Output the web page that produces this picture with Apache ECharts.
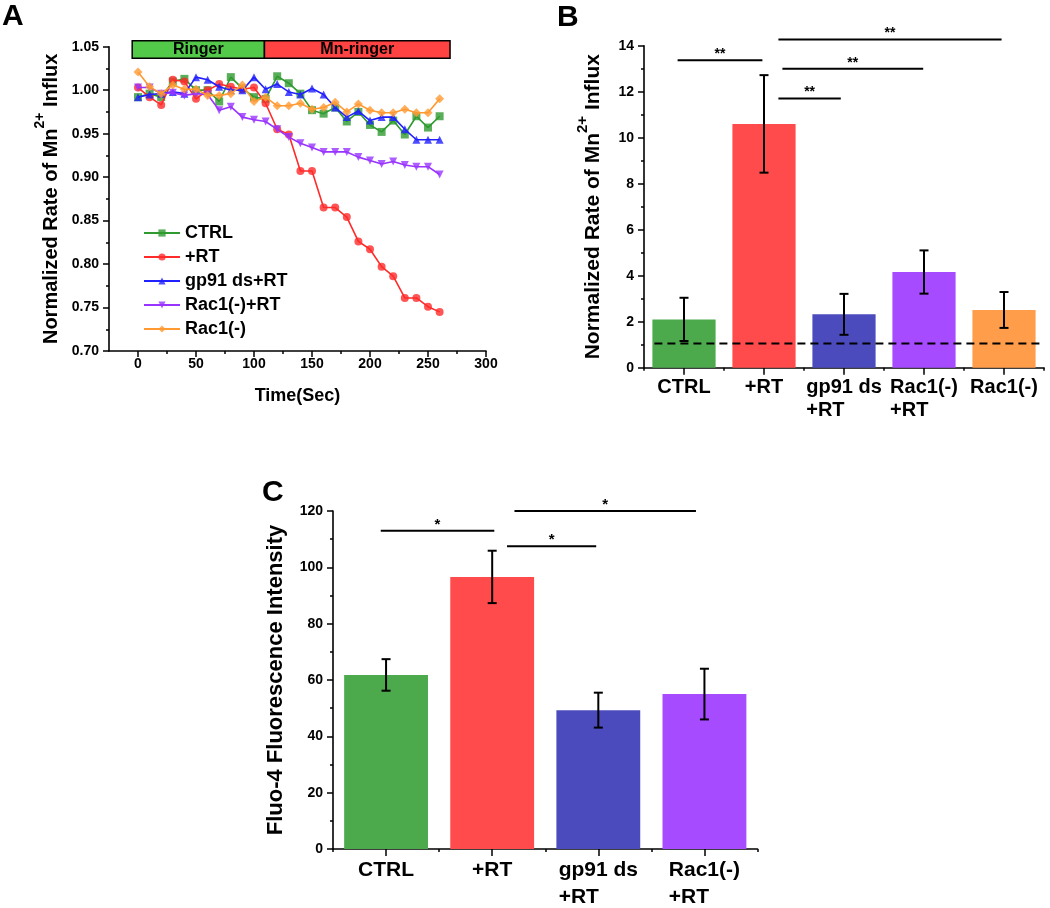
<!DOCTYPE html>
<html><head><meta charset="utf-8">
<script src="https://cdn.jsdelivr.net/npm/echarts@6/dist/echarts.min.js"></script>
<style>html,body{margin:0;padding:0;background:#fff}#c{width:1050px;height:908px}</style>
</head><body><div id="c"></div>
<script>
// ---------- Panel A data ----------
const timeSec = [0,10,20,30,40,50,60,70,80,90,100,110,120,130,140,150,160,170,180,190,200,210,220,230,240,250,260];
const ctrlA   = [0.992,0.996,0.992,1.010,1.013,1.000,1.000,0.987,1.015,1.002,0.992,0.990,1.016,1.008,0.996,0.977,0.973,0.980,0.964,0.975,0.960,0.952,0.965,0.949,0.970,0.957,0.970];
const rtA     = [1.003,0.992,0.983,1.012,1.010,0.990,1.000,1.007,1.004,1.001,1.003,0.985,0.955,0.949,0.907,0.907,0.865,0.865,0.854,0.826,0.817,0.797,0.786,0.761,0.761,0.751,0.745];
const gp91A   = [0.992,0.995,0.996,0.998,0.996,1.015,1.012,1.004,1.000,1.000,1.015,1.001,1.007,0.998,0.995,1.002,0.995,0.980,0.969,0.976,0.965,0.969,0.969,0.955,0.943,0.943,0.943];
const rac1RtA = [1.003,1.003,0.996,0.997,0.994,0.996,0.995,0.977,0.981,0.969,0.966,0.964,0.955,0.946,0.939,0.934,0.929,0.929,0.929,0.923,0.919,0.915,0.918,0.914,0.912,0.912,0.903];
const rac1A   = [1.021,1.004,0.996,1.006,1.001,1.001,0.994,0.994,0.996,1.006,0.987,0.992,0.982,0.982,0.985,0.978,0.980,0.986,0.975,0.984,0.977,0.974,0.974,0.978,0.974,0.974,0.990];
const seriesNamesA = ['CTRL','+RT','gp91 ds+RT','Rac1(-)+RT','Rac1(-)'];
const phaseLabels = ['Ringer','Mn-ringer'];
const phaseStart  = [-5, 109];
const phaseEnd    = [109, 269];
const xTicksA = [0,50,100,150,200,250,300];
const xMinorA = [25,75,125,175,225,275];

// ---------- Panel B data ----------
const catB  = ['CTRL','+RT','gp91 ds\n+RT','Rac1(-)\n+RT','Rac1(-)'];
const meanB = [2.10,10.60,2.32,4.16,2.51];
const errB  = [0.94,2.12,0.89,0.94,0.78];
const baselineB = 1.05;
const sigFromB = [-0.08,1.18,1.23,1.18];
const sigToB   = [0.98,3.97,2.99,1.96];
const sigYB    = [13.37,14.27,13.0,11.7];
const sigTextB = ['**','**','**','**'];

// ---------- Panel C data ----------
const catC  = ['CTRL','+RT','gp91 ds\n+RT','Rac1(-)\n+RT'];
const meanC = [61.8,96.6,49.3,55.0];
const errC  = [5.6,9.3,6.2,9.0];
const sigFromC = [-0.05,1.21,1.14];
const sigToC   = [1.02,2.92,1.98];
const sigYC    = [113.0,120.0,107.5];
const sigTextC = ['*','*','*'];

// ---------- styles ----------
const FF = '"Liberation Sans", Arial, sans-serif';
const lineColors = ['#2f9a2f','#ff2a2a','#2121ff','#9933ff','#ff9a33'];
const symbols = ['rect','circle','triangle','triangle','diamond'];
const symbolRot = [0,0,0,180,0];
const barColors = ['#4caa4c','#ff4b4b','#4b4bbe','#a64bff','#ff9d4b'];
const phaseColors = ['#52c948','#ff4242'];

const chart = echarts.init(document.getElementById('c'), null, {renderer:'canvas'});

function axisLineStyle(){ return {show:true, onZero:false, lineStyle:{color:'#000', width:1.6}}; }

function catLabel(size, lh){
  return {
    interval:0,
    color:'#000', fontFamily:FF, fontWeight:'bold', fontSize:size, margin:8,
    formatter: v => v.split('\n').map(s => '{l|' + s + '}').join('\n'),
    rich:{ l:{align:'left', fontFamily:FF, fontWeight:'bold', fontSize:size, lineHeight:lh, color:'#000'} }
  };
}
function yName(size, supSize, lh){
  return {
    rich:{
      n:{fontFamily:FF, fontWeight:'bold', fontSize:size, color:'#000', verticalAlign:'bottom', lineHeight:lh},
      s:{fontFamily:FF, fontWeight:'bold', fontSize:supSize, color:'#000', verticalAlign:'top', lineHeight:lh}
    }
  };
}

function errRender(means, errs){
  return function(params, api){
    const i = params.dataIndex;
    const top = api.coord([i, means[i] + errs[i]]);
    const bot = api.coord([i, means[i] - errs[i]]);
    const hw = 4.5;
    const st = {stroke:'#000', lineWidth:2};
    return {type:'group', children:[
      {type:'line', shape:{x1:top[0], y1:top[1], x2:bot[0], y2:bot[1]}, style:st},
      {type:'line', shape:{x1:top[0]-hw, y1:top[1], x2:top[0]+hw, y2:top[1]}, style:st},
      {type:'line', shape:{x1:bot[0]-hw, y1:bot[1], x2:bot[0]+hw, y2:bot[1]}, style:st}
    ]};
  };
}
function sigRender(from, to, ys, texts, fontSize){
  return function(params, api){
    const i = params.dataIndex;
    const a = api.coord([from[i], ys[i]]);
    const b = api.coord([to[i], ys[i]]);
    return {type:'group', children:[
      {type:'line', shape:{x1:a[0], y1:a[1], x2:b[0], y2:b[1]}, style:{stroke:'#000', lineWidth:2}},
      {type:'text', style:{text:texts[i], x:(a[0]+b[0])/2, y:a[1]-6, align:'center', verticalAlign:'middle',
        font:'bold ' + fontSize + 'px ' + FF, fill:'#000'}}
    ]};
  };
}

const lineSeries = [ctrlA, rtA, gp91A, rac1RtA, rac1A].map((vals, k) => ({
  name: seriesNamesA[k], type:'line', xAxisIndex:0, yAxisIndex:0,
  data: timeSec.map((t, i) => [t, vals[i]]),
  symbol: symbols[k], symbolRotate: symbolRot[k], symbolSize: k === 4 ? 9 : 8,
  lineStyle:{color:lineColors[k], width:1.6},
  itemStyle:{color:lineColors[k], opacity:0.8},
  z: 3 + k
}));

const option = {
  animation:false,
  backgroundColor:'#fff',
  textStyle:{fontFamily:FF},
  graphic:[
    {type:'text', left:2, top:2, style:{text:'A', font:'bold 30px ' + FF, fill:'#000'}},
    {type:'text', left:557, top:3, style:{text:'B', font:'bold 30px ' + FF, fill:'#000'}},
    {type:'text', left:262, top:478, style:{text:'C', font:'bold 30px ' + FF, fill:'#000'}}
  ],
  legend:{
    data: seriesNamesA, orient:'vertical', left:138, top:219,
    itemWidth:36, itemHeight:9, itemGap:6,
    textStyle:{fontFamily:FF, fontWeight:'bold', fontSize:18, color:'#000'}
  },
  grid:[
    {left:109, top:46.7, width:377, height:304.3},
    {left:644, top:45.7, width:400, height:322},
    {left:333, top:511, width:424.5, height:342.3}
  ],
  xAxis:[
    { // 0: A main
      type:'value', gridIndex:0, min:-25, max:300, position:'bottom',
      axisLine:axisLineStyle(),
      axisTick:{show:true, length:6, customValues:xTicksA, lineStyle:{color:'#000', width:1.5}},
      axisLabel:{customValues:xTicksA, color:'#000', fontWeight:'bold', fontSize:14, fontFamily:FF, margin:6},
      splitLine:{show:false},
      name:'Time(Sec)', nameLocation:'middle', nameGap:36,
      nameTextStyle:{fontFamily:FF, fontWeight:'bold', fontSize:18, color:'#000'}
    },
    { // 1: A minor ticks
      type:'value', gridIndex:0, min:-25, max:300, position:'bottom',
      axisLine:{show:false, onZero:false},
      axisTick:{show:true, length:3, customValues:xMinorA, lineStyle:{color:'#000', width:1.5}},
      axisLabel:{show:false}, splitLine:{show:false}
    },
    { // 2: B main category
      type:'category', gridIndex:1, data:catB, position:'bottom',
      axisLine:axisLineStyle(),
      axisTick:{show:true, alignWithLabel:true, length:7, lineStyle:{color:'#000', width:1.5}},
      axisLabel:catLabel(20, 23)
    },
    { // 3: B boundary ticks
      type:'category', gridIndex:1, data:catB, position:'bottom',
      axisLine:{show:false, onZero:false},
      axisTick:{show:true, length:3, lineStyle:{color:'#000', width:1.5}},
      axisLabel:{show:false}
    },
    { // 4: B overlay value
      type:'value', gridIndex:1, min:-0.5, max:4.5, show:false, position:'bottom'
    },
    { // 5: C main category
      type:'category', gridIndex:2, data:catC, position:'bottom',
      axisLine:axisLineStyle(),
      axisTick:{show:true, alignWithLabel:true, length:7, lineStyle:{color:'#000', width:1.5}},
      axisLabel:catLabel(21, 27)
    },
    { // 6: C boundary ticks
      type:'category', gridIndex:2, data:catC, position:'bottom',
      axisLine:{show:false, onZero:false},
      axisTick:{show:true, length:3, lineStyle:{color:'#000', width:1.5}},
      axisLabel:{show:false}
    },
    { // 7: C overlay value
      type:'value', gridIndex:2, min:-0.5, max:3.5, show:false, position:'bottom'
    }
  ],
  yAxis:[
    {
      type:'value', gridIndex:0, min:0.7, max:1.05, interval:0.05, position:'left',
      axisLine:axisLineStyle(),
      axisTick:{show:true, length:6, lineStyle:{color:'#000', width:1.5}},
      minorTick:{show:true, splitNumber:2, length:3, lineStyle:{color:'#000', width:1.5}},
      axisLabel:{color:'#000', fontWeight:'bold', fontSize:14, fontFamily:FF, margin:10, formatter:v => v.toFixed(2)},
      splitLine:{show:false},
      name:'{n|Normalized Rate of Mn}{s|2+}{n| Influx}', nameLocation:'middle', nameGap:48,
      nameTextStyle:yName(20, 14, 28)
    },
    {
      type:'value', gridIndex:1, min:0, max:14, interval:2, position:'left',
      axisLine:axisLineStyle(),
      axisTick:{show:true, length:6, lineStyle:{color:'#000', width:1.5}},
      minorTick:{show:true, splitNumber:2, length:3, lineStyle:{color:'#000', width:1.5}},
      axisLabel:{color:'#000', fontWeight:'bold', fontSize:14, fontFamily:FF, margin:10},
      splitLine:{show:false},
      name:'{n|Normalized Rate of Mn}{s|2+}{n| Influx}', nameLocation:'middle', nameGap:40,
      nameTextStyle:yName(21, 15, 29)
    },
    {
      type:'value', gridIndex:2, min:0, max:120, interval:20, position:'left',
      axisLine:axisLineStyle(),
      axisTick:{show:true, length:6, lineStyle:{color:'#000', width:1.5}},
      minorTick:{show:true, splitNumber:2, length:3, lineStyle:{color:'#000', width:1.5}},
      axisLabel:{color:'#000', fontWeight:'bold', fontSize:14, fontFamily:FF, margin:10},
      splitLine:{show:false},
      name:'Fluo-4 Fluorescence Intensity', nameLocation:'middle', nameGap:46,
      nameTextStyle:{fontFamily:FF, fontWeight:'bold', fontSize:22, color:'#000'}
    }
  ],
  series:[
    ...lineSeries,
    {
      name:'phase', type:'custom', xAxisIndex:0, yAxisIndex:0, clip:false, z:10,
      data: phaseLabels.map((l, i) => [phaseStart[i], phaseEnd[i]]),
      renderItem(params, api){
        const i = params.dataIndex;
        const yTop = api.coord([0, 1.05])[1] - 6;
        const h = 17.6;
        const x1 = api.coord([phaseStart[i], 1.05])[0];
        const x2 = api.coord([phaseEnd[i], 1.05])[0];
        return {type:'group', children:[
          {type:'rect', shape:{x:x1, y:yTop, width:x2-x1, height:h}, style:{fill:phaseColors[i], stroke:'#000', lineWidth:1.5}},
          {type:'text', style:{text:phaseLabels[i], x:(x1+x2)/2, y:yTop+h/2+0.5, align:'center', verticalAlign:'middle',
            font:'bold 16px ' + FF, fill:'#000'}}
        ]};
      }
    },
    {
      name:'B bars', type:'bar', xAxisIndex:2, yAxisIndex:1, barWidth:'79%',
      data: meanB.map((v, i) => ({value:v, itemStyle:{color:barColors[i]}}))
    },
    {
      name:'B err', type:'custom', xAxisIndex:2, yAxisIndex:1, z:5,
      data: meanB.map((v, i) => [i, v]), renderItem: errRender(meanB, errB)
    },
    {
      name:'B baseline', type:'custom', xAxisIndex:4, yAxisIndex:1, z:6,
      data:[[baselineB]],
      renderItem(params, api){
        const a = api.coord([-0.37, baselineB]);
        const b = api.coord([4.45, baselineB]);
        return {type:'line', shape:{x1:a[0], y1:a[1], x2:b[0], y2:b[1]}, style:{stroke:'#000', lineWidth:2, lineDash:[8,5]}};
      }
    },
    {
      name:'B sig', type:'custom', xAxisIndex:4, yAxisIndex:1, clip:false, z:6,
      data: sigYB.map((y, i) => [sigFromB[i], y]), renderItem: sigRender(sigFromB, sigToB, sigYB, sigTextB, 14)
    },
    {
      name:'C bars', type:'bar', xAxisIndex:5, yAxisIndex:2, barWidth:'79%',
      data: meanC.map((v, i) => ({value:v, itemStyle:{color:barColors[i]}}))
    },
    {
      name:'C err', type:'custom', xAxisIndex:5, yAxisIndex:2, z:5,
      data: meanC.map((v, i) => [i, v]), renderItem: errRender(meanC, errC)
    },
    {
      name:'C sig', type:'custom', xAxisIndex:7, yAxisIndex:2, clip:false, z:6,
      data: sigYC.map((y, i) => [sigFromC[i], y]), renderItem: sigRender(sigFromC, sigToC, sigYC, sigTextC, 15)
    }
  ]
};
chart.setOption(option);
</script>
</body></html>
